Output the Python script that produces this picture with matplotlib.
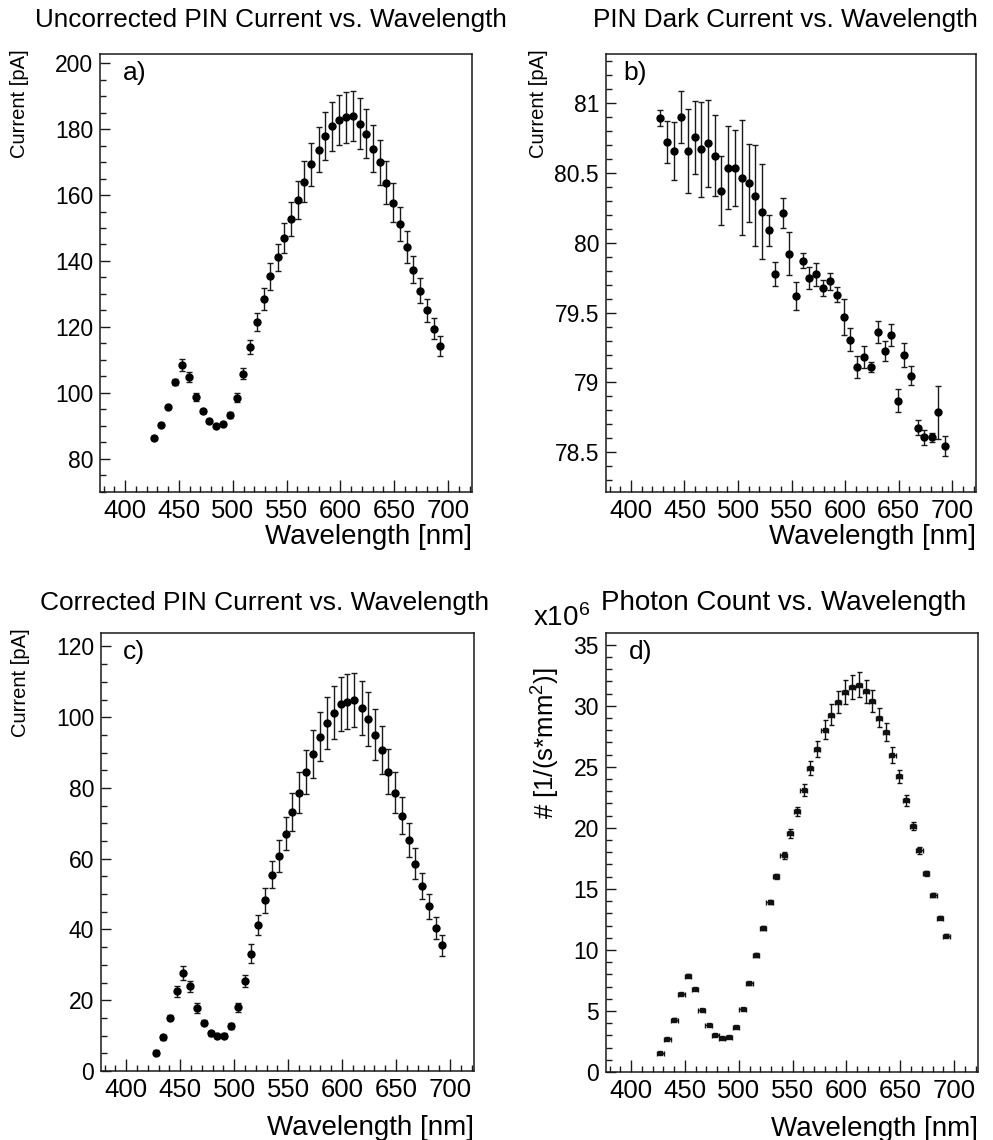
import matplotlib
matplotlib.use('Agg')
import matplotlib.pyplot as plt
from matplotlib.ticker import MultipleLocator

plt.rcParams['font.family'] = ['Liberation Sans', 'DejaVu Sans']
plt.rcParams['mathtext.fontset'] = 'custom'
plt.rcParams['mathtext.rm'] = 'Liberation Sans'
plt.rcParams['mathtext.it'] = 'Liberation Sans:italic'

# ---------------- data ----------------
wavelength = [427.2, 433.7, 440.2, 446.7, 452.9, 459.4, 465.6, 472.0, 478.2, 484.4,
              490.9, 497.4, 503.6, 509.8, 516.0, 522.4, 528.6, 534.8, 541.6, 547.8,
              554.0, 560.2, 566.4, 572.9, 579.7, 585.9, 592.3, 598.8, 605.0, 611.5,
              618.0, 623.9, 630.4, 636.9, 642.7, 648.9, 655.1, 661.6, 667.8, 674.0,
              680.8, 686.9, 692.8]

current_uncorr = [86.3, 90.2, 95.8, 103.3, 108.4, 104.8, 98.7, 94.4, 91.4, 90.0,
                  90.5, 93.3, 98.5, 105.8, 113.9, 121.4, 128.5, 135.3, 141.2, 147.0,
                  152.8, 158.6, 164.1, 169.3, 173.8, 177.9, 180.9, 182.8, 183.6, 183.9,
                  181.7, 178.6, 174.1, 169.9, 163.8, 157.7, 151.2, 144.2, 137.4, 131.0,
                  125.0, 119.4, 114.1]
err_uncorr = [0.5, 0.5, 0.6, 1.0, 1.9, 1.5, 1.2, 0.6, 0.5, 0.5,
              0.6, 0.8, 1.3, 1.7, 2.2, 2.8, 3.3, 4.0, 4.1, 4.6,
              5.2, 5.8, 6.3, 6.6, 6.9, 7.3, 7.4, 7.7, 7.7, 7.6,
              7.7, 7.4, 7.1, 6.9, 6.5, 6.0, 5.2, 4.8, 4.2, 3.8,
              3.5, 3.2, 3.0]

current_dark = [80.895, 80.723, 80.659, 80.900, 80.659, 80.756, 80.670, 80.713, 80.623, 80.374,
                80.539, 80.537, 80.468, 80.427, 80.339, 80.222, 80.090, 79.775, 80.214, 79.923,
                79.622, 79.873, 79.749, 79.775, 79.675, 79.725, 79.629, 79.467, 79.305, 79.111,
                79.180, 79.111, 79.362, 79.226, 79.340, 78.870, 79.197, 79.049, 78.677, 78.607,
                78.607, 78.787, 78.545]
err_dark = [0.06, 0.15, 0.21, 0.185, 0.30, 0.26, 0.34, 0.31, 0.29, 0.245,
            0.30, 0.27, 0.41, 0.28, 0.36, 0.34, 0.11, 0.086, 0.105, 0.155,
            0.10, 0.056, 0.078, 0.084, 0.056, 0.06, 0.054, 0.128, 0.082, 0.08,
            0.08, 0.033, 0.076, 0.072, 0.078, 0.083, 0.083, 0.07, 0.056, 0.054,
            0.032, 0.19, 0.072]

current_corr = [5.2, 9.5, 15.0, 22.5, 27.7, 23.9, 17.8, 13.6, 10.6, 9.8,
                10.0, 12.7, 18.0, 25.4, 33.2, 41.2, 48.2, 55.5, 60.8, 67.1,
                73.2, 78.6, 84.4, 89.5, 94.5, 98.3, 101.3, 103.7, 104.4, 104.9,
                102.5, 99.5, 95.1, 90.7, 84.6, 78.7, 72.2, 65.2, 58.6, 52.3,
                46.5, 40.4, 35.5]
err_corr = [0.6, 0.6, 0.7, 1.6, 1.9, 1.6, 1.4, 0.7, 0.6, 0.6,
            0.7, 0.9, 1.3, 1.75, 2.6, 2.8, 3.5, 3.9, 4.5, 4.7,
            5.5, 5.8, 6.2, 6.75, 6.9, 7.4, 7.55, 7.7, 7.8, 7.7,
            7.65, 7.5, 7.1, 6.7, 6.3, 5.8, 5.3, 4.8, 4.3, 3.8,
            3.5, 3.2, 2.9]

photon_count = [1.54, 2.74, 4.29, 6.39, 7.89, 6.80, 5.06, 3.88, 3.04, 2.77,
                2.88, 3.69, 5.17, 7.27, 9.56, 11.82, 13.92, 16.05, 17.74, 19.54,
                21.34, 23.08, 24.91, 26.46, 28.05, 29.27, 30.31, 31.15, 31.51, 31.73,
                31.18, 30.36, 29.00, 27.86, 25.97, 24.23, 22.24, 20.16, 18.17, 16.27,
                14.49, 12.64, 11.17]
err_photon = [0.05, 0.07, 0.1, 0.1, 0.12, 0.1, 0.08, 0.07, 0.06, 0.06,
              0.06, 0.08, 0.1, 0.12, 0.15, 0.15, 0.18, 0.2, 0.3, 0.35,
              0.38, 0.5, 0.55, 0.68, 0.8, 0.85, 0.9, 0.98, 0.97, 1.0,
              0.95, 0.9, 0.78, 0.75, 0.64, 0.52, 0.42, 0.34, 0.29, 0.2,
              0.15, 0.12, 0.1]
wl_err_photon = 3.0

titles = ["Uncorrected PIN Current vs. Wavelength",
          "PIN Dark Current vs. Wavelength",
          "Corrected PIN Current vs. Wavelength",
          "Photon Count vs. Wavelength"]
panel_tags = ["a)", "b)", "c)", "d)"]
xlabel = "Wavelength [nm]"
ylabels = ["Current [pA]", "Current [pA]", "Current [pA]", r"# [1/(s*mm$^{2}$)]"]

# ---------------- layout ----------------
W, H = 993, 1140
fig = plt.figure(figsize=(W / 100, H / 100), dpi=100)


def px_axes(left, right, top, bottom):
    return fig.add_axes([left / W, 1 - bottom / H, (right - left) / W, (bottom - top) / H])


ax_a = px_axes(100, 472, 54, 492)
ax_b = px_axes(606, 976, 54, 492)
ax_c = px_axes(101, 474, 633, 1071)
ax_d = px_axes(606, 978, 633, 1072)
axes = [ax_a, ax_b, ax_c, ax_d]

ylims = [(69.9, 202.8), (78.215, 81.353), (0, 123.8), (0, 35.96)]
ymajor = [20, 0.5, 20, 5]
yminor = [5, 0.1, 5, 1]
ylab_size = [14.5, 14.5, 14.5, 18.5]
ylab_x = [-0.19, -0.157, -0.19, -0.118]
ylab_y = [1.01, 1.01, 1.01, 0.922]
xlab_y = [-0.073, -0.073, -0.1, -0.1]
tag_pos = [(0.062, 0.985), (0.046, 0.985), (0.059, 0.985), (0.062, 0.985)]

ebkw = dict(fmt='o', color='black', ecolor='#1a1a1a', elinewidth=1.0,
            capsize=2.0, capthick=1.0, markersize=5)

ax_a.errorbar(wavelength, current_uncorr, yerr=err_uncorr, **ebkw)
ax_b.errorbar(wavelength, current_dark, yerr=err_dark, **ebkw)
ax_c.errorbar(wavelength, current_corr, yerr=err_corr, **ebkw)
ax_d.errorbar(wavelength, photon_count, yerr=err_photon, xerr=wl_err_photon,
              fmt='s', color='#111111', ecolor='#111111', elinewidth=1.0,
              capsize=1.8, capthick=1.0, markersize=2.2)

for i, ax in enumerate(axes):
    ax.set_xlim(376.7, 722.2)
    ax.set_ylim(*ylims[i])
    ax.xaxis.set_major_locator(MultipleLocator(50))
    ax.xaxis.set_minor_locator(MultipleLocator(10))
    ax.yaxis.set_major_locator(MultipleLocator(ymajor[i]))
    ax.yaxis.set_minor_locator(MultipleLocator(yminor[i]))
    ax.tick_params(which='both', direction='in', top=False, right=False, width=1.0,
                   color='#1a1a1a')
    ax.tick_params(axis='x', which='major', length=8.5, labelsize=18.5, pad=5)
    ax.tick_params(axis='x', which='minor', length=4.5)
    ax.tick_params(axis='y', which='major', length=7.5, labelsize=16.5, pad=5)
    ax.tick_params(axis='y', which='minor', length=4)
    for s in ax.spines.values():
        s.set_linewidth(1.1)
        s.set_color('#1a1a1a')
    ax.set_xlabel(xlabel, fontsize=20, ha='right', va='top')
    ax.xaxis.set_label_coords(1.0, xlab_y[i])
    ax.set_ylabel(ylabels[i], fontsize=ylab_size[i], ha='right', va='bottom')
    ax.yaxis.set_label_coords(ylab_x[i], ylab_y[i])
    ax.text(tag_pos[i][0], tag_pos[i][1], panel_tags[i], transform=ax.transAxes,
            fontsize=19, ha='left', va='top')

ax_b.yaxis.set_major_formatter(plt.FuncFormatter(lambda v, p: f"{v:g}"))

# titles
fig.text(271 / W, 1 - 20 / H, titles[0], fontsize=18.8, ha='center', va='center')
fig.text(785 / W, 1 - 20 / H, titles[1], fontsize=18.8, ha='center', va='center')
fig.text(265 / W, 1 - 603 / H, titles[2], fontsize=19, ha='center', va='center')
fig.text(783.5 / W, 1 - 603 / H, titles[3], fontsize=20, ha='center', va='center')
fig.text(533 / W, 1 - 626 / H, r"x10$^{6}$", fontsize=20, ha='left', va='baseline')

fig.savefig('out.png', dpi=100)
